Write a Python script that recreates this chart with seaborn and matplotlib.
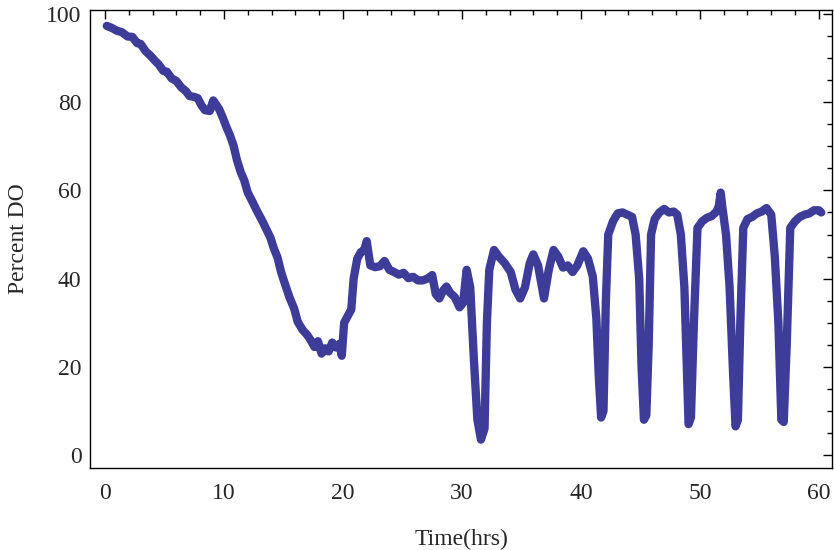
#!/usr/bin/env python3
import pandas as pd
import matplotlib
matplotlib.use('Agg')
import matplotlib.pyplot as plt
import seaborn as sns
from matplotlib.ticker import MultipleLocator

# Dissolved oxygen readings
time_hrs = [
    0.15, 0.6, 1.0, 1.4, 1.9, 2.3, 2.7, 3.0, 3.4, 3.8, 4.2, 4.5, 4.9, 5.2, 5.6,
    6.0, 6.4, 6.8, 7.1, 7.5, 7.8, 8.1, 8.4, 8.8, 9.1, 9.3, 9.6, 9.9, 10.2, 10.5,
    10.8, 11.1, 11.4, 11.7, 12.0, 12.4, 12.8, 13.2, 13.6, 13.9, 14.2, 14.5, 14.8,
    15.1, 15.5, 15.9, 16.2, 16.6, 17.0, 17.3, 17.6, 17.9, 18.2, 18.5, 18.8, 19.1,
    19.4, 19.7, 19.9, 20.1, 20.4, 20.7, 20.9, 21.2, 21.5, 21.8, 22.0, 22.3, 22.7,
    23.1, 23.5, 23.9, 24.3, 24.7, 25.1, 25.5, 25.9, 26.3, 26.7, 27.1, 27.5, 27.8,
    28.1, 28.4, 28.7, 29.0, 29.4, 29.8, 30.1, 30.4, 30.7, 31.0, 31.3, 31.6, 31.9,
    32.1, 32.3, 32.7, 33.1, 33.6, 34.1, 34.5, 34.9, 35.3, 35.7, 36.0, 36.4, 36.9,
    37.3, 37.7, 38.1, 38.5, 38.9, 39.3, 39.7, 40.2, 40.6, 41.0, 41.3, 41.5, 41.7,
    41.9, 42.1, 42.3, 42.7, 43.1, 43.5, 43.9, 44.3, 44.6, 44.9, 45.1, 45.3, 45.5,
    45.7, 45.9, 46.2, 46.6, 47.0, 47.4, 47.8, 48.1, 48.4, 48.7, 48.9, 49.05, 49.25,
    49.5, 49.8, 50.2, 50.6, 51.0, 51.4, 51.6, 51.75, 51.9, 52.2, 52.5, 52.8, 53.0,
    53.2, 53.4, 53.65, 54.0, 54.4, 54.8, 55.2, 55.6, 56.0, 56.3, 56.6, 56.85,
    57.05, 57.3, 57.6, 58.0, 58.4, 58.8, 59.2, 59.6, 60.0, 60.2,
]
percent_do = [
    97.3, 96.8, 96.2, 95.9, 94.9, 94.8, 93.4, 93.2, 91.6, 90.6, 89.4, 88.6, 87.1, 86.9, 85.4,
    84.8, 83.4, 82.5, 81.4, 81.2, 80.9, 79.3, 78.2, 78.0, 80.4, 79.6, 78.4, 76.5, 74.4, 72.5,
    70.2, 66.8, 64.2, 62.3, 59.5, 57.4, 55.2, 53.2, 51.0, 49.3, 46.8, 44.8, 41.5,
    39.0, 35.8, 33.2, 30.2, 28.4, 27.2, 26.0, 24.5, 25.8, 23.0, 24.2, 23.5, 25.5,
    24.4, 25.2, 22.5, 30.0, 31.5, 33.0, 40.0, 44.5, 46.0, 46.5, 48.5, 43.0, 42.6,
    42.8, 44.0, 42.0, 41.5, 40.9, 41.3, 40.1, 40.4, 39.6, 39.6, 40.0, 40.8, 36.5,
    35.5, 37.2, 38.2, 36.8, 35.8, 33.5, 34.5, 42.0, 38.0, 22.0, 8.0, 3.5, 6.0,
    30.0, 42.0, 46.5, 45.0, 43.5, 41.5, 37.5, 35.5, 38.0, 43.5, 45.5, 43.0, 35.5,
    42.0, 46.5, 45.0, 42.5, 43.0, 41.5, 43.0, 46.2, 44.5, 40.5, 31.0, 18.0, 8.5,
    10.0, 35.0, 50.0, 53.0, 54.8, 55.0, 54.5, 54.0, 50.0, 40.0, 20.0, 8.0, 9.0,
    25.0, 50.0, 53.5, 55.0, 55.8, 55.0, 55.2, 54.5, 50.0, 38.0, 20.0, 7.0, 8.5,
    30.0, 51.5, 53.0, 53.8, 54.2, 55.2, 56.5, 59.5, 56.0, 50.0, 38.0, 18.0, 6.5,
    8.0, 30.0, 51.5, 53.5, 54.0, 54.8, 55.2, 56.0, 54.5, 45.0, 30.0, 8.0,
    7.5, 25.0, 51.5, 53.0, 54.0, 54.5, 54.8, 55.5, 55.5, 55.0,
]

sns.set_theme(style="white")
plt.rcParams['font.family'] = ['Liberation Serif', 'DejaVu Serif']


def main():
    df = pd.DataFrame({'time': time_hrs, 'do': percent_do})

    fig = plt.figure(figsize=(8.34, 5.5), dpi=100)
    ax = fig.add_axes([0.1085, 0.149, 0.889, 0.8328])

    sns.lineplot(data=df, x='time', y='do', ax=ax, color='#3d3d99',
                 linewidth=6.0, solid_joinstyle='round', solid_capstyle='round',
                 sort=False)

    ax.set_xlim(-1.22, 61.1)
    ax.set_ylim(-2.95, 100.9)

    ax.xaxis.set_major_locator(MultipleLocator(10))
    ax.xaxis.set_minor_locator(MultipleLocator(2))
    ax.yaxis.set_major_locator(MultipleLocator(20))
    ax.yaxis.set_minor_locator(MultipleLocator(5))

    ax.tick_params(which='both', direction='in', top=True, right=True,
                   color='black', width=1.0)
    ax.tick_params(which='major', length=6.7)
    ax.tick_params(which='minor', length=3.8)
    ax.tick_params(axis='x', which='major', pad=11, labelsize=17)
    ax.tick_params(axis='y', which='major', pad=6.5, labelsize=17)

    for side in ax.spines.values():
        side.set_color('black')
        side.set_linewidth(1.0)

    ax.set_xlabel('Time(hrs)', fontsize=17, labelpad=18)
    ax.set_ylabel('Percent DO', fontsize=17, labelpad=12)
    ax.grid(False)

    fig.savefig('out.png', dpi=100)
    plt.close(fig)


if __name__ == "__main__":
    main()
